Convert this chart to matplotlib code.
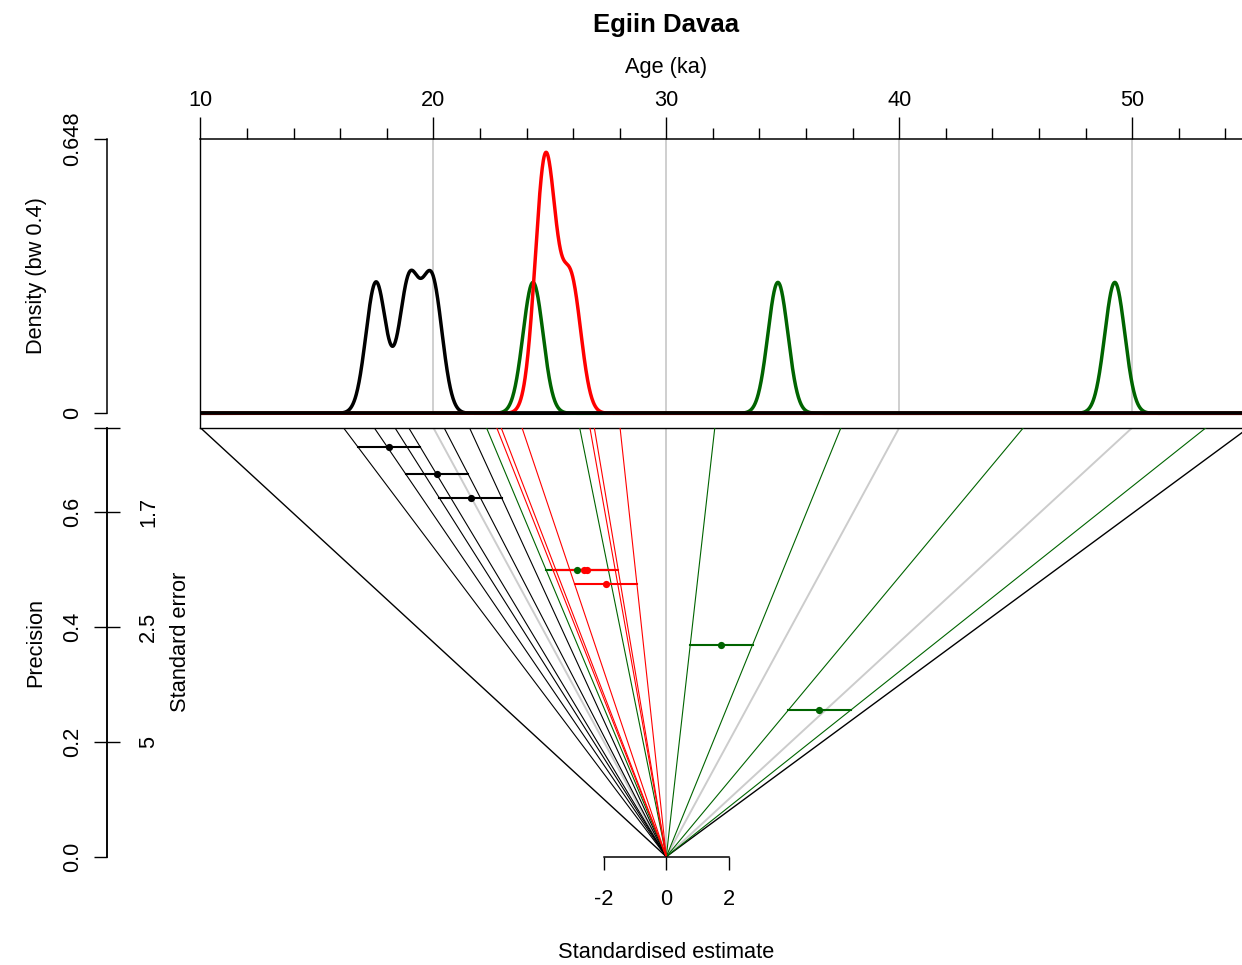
import numpy as np
import matplotlib
matplotlib.use("Agg")
import matplotlib.pyplot as plt

plt.rcParams['font.family'] = ['Liberation Sans', 'DejaVu Sans']
plt.rcParams['axes.unicode_minus'] = False

# ---------------------------------------------------------------- data
TITLE = "Egiin Davaa"
CENTRAL_AGE = 30.0          # reference age of the radial plot (ka)
AGE_RANGE = (10.0, 55.0)    # age span covered by the plot (ka)
BANDWIDTH = 0.43            # KDE bandwidth (ka)
DENSITY_MAX = 0.648

black_ages = [17.54, 18.96, 19.95]
black_errs = [1.40, 1.50, 1.60]
green_ages = [24.28, 34.79, 49.25]
green_errs = [2.00, 2.708, 3.92]
red_ages = [24.72, 24.91, 25.91]
red_errs = [2.00, 2.00, 2.105]

grid_ages = [20, 30, 40, 50]
age_major_ticks = [10, 20, 30, 40, 50]
age_minor_ticks = list(range(10, 56, 2))
precision_ticks = [0.0, 0.2, 0.4, 0.6]
z_ticks = [-2, 0, 2]

GREEN = "#006400"
GREY = "#CCCCCC"
groups = [
    ("black", black_ages, black_errs),
    (GREEN, green_ages, green_errs),
    ("red", red_ages, red_errs),
]

# ---------------------------------------------------------------- layout (pixels)
W, H, DPI = 1242, 965, 100
FS = 15.7
PREC_TOP = 0.7475           # precision at the top edge of the radial plot
X0, Y0 = 666.3, 856.7       # pixel position of the radial origin
PX_Z, PX_P = 31.17, 574.0   # pixels per standardised unit / per precision unit
AXIS_X = 107.3              # pixel column of the left-hand axes
KDE_TOP, KDE_ZERO = 139.0, 413.3

z_lo = (AGE_RANGE[0] - CENTRAL_AGE) * PREC_TOP
z_hi = (AGE_RANGE[1] - CENTRAL_AGE) * PREC_TOP
left_px = X0 + z_lo * PX_Z
right_px = X0 + z_hi * PX_Z
top_px = Y0 - PREC_TOP * PX_P
width_px = right_px - left_px
spine_frac = (AXIS_X - left_px) / width_px
origin_frac = (X0 - left_px) / width_px


def fx(px):
    return px / W


def fy(py):
    return 1 - py / H


fig = plt.figure(figsize=(W / DPI, H / DPI), dpi=DPI)
fig.patch.set_facecolor("white")

# ---------------------------------------------------------------- KDE panel
ax_k = fig.add_axes([fx(left_px), fy(top_px), width_px / W, (top_px - KDE_TOP) / H])
kde_lo = -(top_px - KDE_ZERO) / (KDE_ZERO - KDE_TOP) * DENSITY_MAX
ax_k.set_xlim(*AGE_RANGE)
ax_k.set_ylim(kde_lo, DENSITY_MAX)
ax_k.patch.set_visible(False)

ax_k.vlines(grid_ages, 0, DENSITY_MAX, color=GREY, lw=1.3, zorder=1)

grid = np.linspace(AGE_RANGE[0], AGE_RANGE[1], 3000)
for colour, ages, _ in [groups[0], groups[1], groups[2]]:
    a = np.asarray(ages)[:, None]
    dens = np.exp(-0.5 * ((grid[None, :] - a) / BANDWIDTH) ** 2).sum(axis=0)
    dens /= len(ages) * BANDWIDTH * np.sqrt(2 * np.pi)
    ax_k.plot(grid, dens, color=colour, lw=2.5, zorder=3, solid_capstyle="butt")
ax_k.axhline(0, color="black", lw=2.6, zorder=5)

ax_k.axvline(AGE_RANGE[0], color="black", lw=1.0, clip_on=False, zorder=4)
for s in ["right", "bottom"]:
    ax_k.spines[s].set_visible(False)
ax_k.spines["top"].set_linewidth(1.1)
ax_k.spines["left"].set_position(("axes", spine_frac))
ax_k.spines["left"].set_bounds(0, DENSITY_MAX)
ax_k.spines["left"].set_linewidth(1.1)
ax_k.set_yticks([0, DENSITY_MAX])
ax_k.set_yticklabels(["0", f"{DENSITY_MAX:g}"])
ax_k.tick_params(axis="y", direction="out", length=9.6, width=1.0,
                 labelrotation=90, pad=8, labelsize=FS)
for lbl in ax_k.get_yticklabels():
    lbl.set_va("center")

ax_k.xaxis.tick_top()
ax_k.set_xticks(age_major_ticks)
ax_k.set_xticks(age_minor_ticks, minor=True)
ax_k.tick_params(axis="x", which="major", direction="out", length=15.8, width=1.0,
                 pad=4.5, labelsize=FS)
ax_k.tick_params(axis="x", which="minor", direction="out", length=7.9, width=1.0)

ax_k.set_xlabel("Age (ka)", fontsize=FS)
ax_k.xaxis.set_label_position("top")
ax_k.xaxis.set_label_coords(origin_frac, 1 + (KDE_TOP - 67) / (top_px - KDE_TOP))
ax_k.xaxis.label.set_va("center")

ax_k.set_ylabel(f"Density (bw {BANDWIDTH:.1f})", fontsize=FS)
ax_k.yaxis.set_label_coords((37 - left_px) / width_px,
                            (top_px - 276) / (top_px - KDE_TOP))
ax_k.yaxis.label.set_va("center")

# ---------------------------------------------------------------- radial panel
ax_r = fig.add_axes([fx(left_px), fy(Y0), width_px / W, (Y0 - top_px) / H])
ax_r.set_xlim(z_lo, z_hi)
ax_r.set_ylim(0, PREC_TOP)
ax_r.patch.set_visible(False)


def ray(age):
    return [0, (age - CENTRAL_AGE) * PREC_TOP], [0, PREC_TOP]


for a in grid_ages:
    ax_r.plot(*ray(a), color=GREY, lw=1.4, zorder=1)
for a in AGE_RANGE:
    ax_r.plot(*ray(a), color="black", lw=1.0, zorder=2)
ax_r.plot([z_lo, z_hi], [PREC_TOP, PREC_TOP], color="black", lw=1.0,
          clip_on=False, zorder=2)

for colour, ages, errs in groups:
    for t, s in zip(ages, errs):
        for a in (t - s, t + s):
            ax_r.plot(*ray(a), color=colour, lw=0.8, zorder=2)

for colour, ages, errs in groups:
    for t, s in zip(ages, errs):
        z, p = (t - CENTRAL_AGE) / s, 1 / s
        ax_r.plot([z - 1, z + 1], [p, p], color=colour, lw=1.5, zorder=3)
for colour, ages, errs in groups:
    for t, s in zip(ages, errs):
        z, p = (t - CENTRAL_AGE) / s, 1 / s
        ax_r.plot(z, p, "o", color=colour, ms=5.2, mec="none", zorder=4)

for s in ["top", "right"]:
    ax_r.spines[s].set_visible(False)
ax_r.spines["left"].set_position(("axes", spine_frac))
ax_r.spines["left"].set_bounds(0, PREC_TOP)
ax_r.spines["bottom"].set_bounds(z_ticks[0], z_ticks[-1])
for s in ["left", "bottom"]:
    ax_r.spines[s].set_linewidth(1.1)

ax_r.set_yticks(precision_ticks + [PREC_TOP])
ax_r.set_yticklabels([f"{p:.1f}" for p in precision_ticks] + [""])
ax_r.tick_params(axis="y", direction="out", length=9.6, width=1.0,
                 labelrotation=90, pad=8, labelsize=FS)
for lbl in ax_r.get_yticklabels():
    lbl.set_va("center")
ax_r.set_xticks(z_ticks)
ax_r.set_xticklabels([str(z) for z in z_ticks])
ax_r.tick_params(axis="x", direction="out", length=9.6, width=1.0, pad=13.5,
                 labelsize=FS)

ax_r.set_ylabel("Precision", fontsize=FS)
ax_r.yaxis.set_label_coords((36 - left_px) / width_px, 0.5)
ax_r.yaxis.label.set_va("center")
ax_r.set_xlabel("Standardised estimate", fontsize=FS)
ax_r.xaxis.set_label_coords(origin_frac, (Y0 - 953) / (Y0 - top_px))
ax_r.xaxis.label.set_va("center")

# standard-error scale on the other side of the precision axis
ax_se = ax_r.twinx()
ax_se.set_ylim(0, PREC_TOP)
for s in ["top", "left", "bottom"]:
    ax_se.spines[s].set_visible(False)
ax_se.spines["right"].set_position(("axes", spine_frac))
ax_se.spines["right"].set_bounds(0, PREC_TOP)
ax_se.spines["right"].set_linewidth(1.1)
se_ticks = [p for p in precision_ticks if p > 0]
ax_se.set_yticks(se_ticks + [PREC_TOP])
ax_se.set_yticklabels([f"{1 / p:.2g}" for p in se_ticks] + [""])
ax_se.tick_params(axis="y", direction="out", length=9.6, width=1.0,
                  labelrotation=90, pad=12.5, labelsize=FS)
for lbl in ax_se.get_yticklabels():
    lbl.set_va("center")
ax_se.set_ylabel("Standard error", fontsize=FS)
ax_se.yaxis.set_label_coords((180 - left_px) / width_px, 0.5)
ax_se.yaxis.label.set_va("center")
ax_se.yaxis.label.set_rotation(90)

fig.text(fx(X0), fy(25), TITLE, ha="center", va="center", fontsize=18.5,
         fontweight="bold")

fig.savefig("out.png", dpi=DPI)
